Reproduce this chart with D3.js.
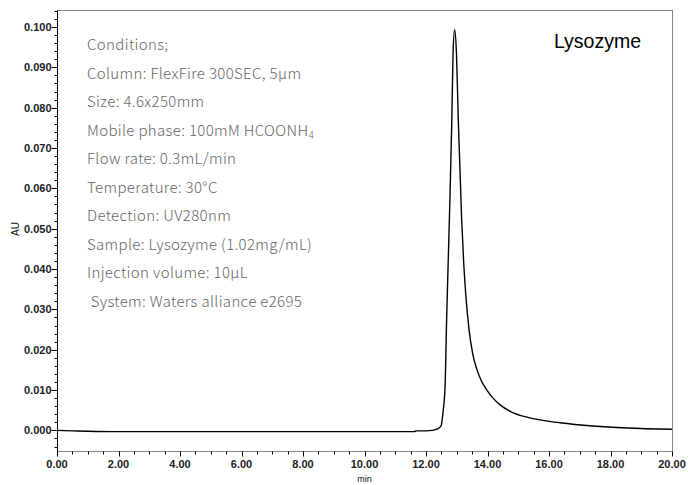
<!DOCTYPE html>
<html><head><meta charset="utf-8">
<script src="https://cdn.jsdelivr.net/npm/d3@7"></script>
<style>body{margin:0;background:#fff}svg{display:block}</style>
</head><body><svg id="c" width="688" height="485"></svg>
<script>
const timeMin = [0,0.5,1,2,3,5,7,9,11,11.6,11.7,12.0,12.2,12.35,12.49,12.55,12.62,12.67,12.76,12.84,12.88,12.93,12.99,13.05,13.16,13.23,13.30,13.40,13.52,13.66,13.80,13.98,14.18,14.40,14.80,15.28,15.80,16.36,17.43,18.54,20.0];
const absAU   = [0.0000,-0.0001,-0.0002,-0.0003,-0.0003,-0.0003,-0.0003,-0.0003,-0.0003,-0.0003,-0.0001,-0.0001,0.0000,0.0003,0.0011,0.0043,0.0109,0.0274,0.0522,0.0770,0.0936,0.0993,0.0936,0.0770,0.0522,0.0410,0.0330,0.0250,0.0190,0.0150,0.0123,0.0100,0.0080,0.0064,0.0045,0.0033,0.0025,0.0019,0.0011,0.0006,0.0003];
const xTickValues = [0,2,4,6,8,10,12,14,16,18,20];
const yTickValues = [0,0.01,0.02,0.03,0.04,0.05,0.06,0.07,0.08,0.09,0.10];
const conditions = ["Conditions;","Column: FlexFire 300SEC, 5µm","Size: 4.6x250mm","Mobile phase: 100mM HCOONH\u2084","Flow rate: 0.3mL/min","Temperature: 30°C","Detection: UV280nm","Sample: Lysozyme (1.02mg/mL)","Injection volume: 10µL"," System: Waters alliance e2695"];
const sampleName = "Lysozyme";
const xTitle = "min", yTitle = "AU";

const svg = d3.select("#c");
const L=57,R=672,T=10,B=451;
const x = d3.scaleLinear().domain([0,20]).range([L,R]);
const y = d3.scaleLinear().domain([-0.0051,0.1042]).range([B,T]);

// frame
svg.append("line").attr("x1",L).attr("x2",R).attr("y1",T+0.5).attr("y2",T+0.5).attr("stroke","#888");
svg.append("line").attr("x1",R+0.5).attr("x2",R+0.5).attr("y1",T).attr("y2",B).attr("stroke","#888");

const fnt = "'Liberation Sans', Arial, sans-serif";
// x axis
const xMinor = d3.range(0,20.01,0.5);
const gx = svg.append("g").attr("transform",`translate(0,${B+0.5})`);
gx.append("line").attr("x1",L).attr("x2",R).attr("stroke","#888");
gx.selectAll(".mn").data(xMinor).join("line").attr("x1",d=>Math.round(x(d))+0.5).attr("x2",d=>Math.round(x(d))+0.5).attr("y1",0).attr("y2",3).attr("stroke","#000");
gx.selectAll(".mj").data(xTickValues).join("line").attr("x1",d=>Math.round(x(d))+0.5).attr("x2",d=>Math.round(x(d))+0.5).attr("y1",0).attr("y2",5).attr("stroke","#000");
gx.selectAll("text").data(xTickValues).join("text").attr("x",d=>x(d)).attr("y",16).attr("text-anchor","middle")
  .attr("font-family",fnt).attr("font-size",11).attr("font-weight","bold").attr("fill","#222").text(d=>d.toFixed(2));
svg.append("text").attr("x",(L+R)/2).attr("y",482).attr("text-anchor","middle").attr("font-family",fnt).attr("font-size",9).attr("fill","#111").text(xTitle);

// y axis
const yMinor = d3.range(-0.004,0.1041,0.002);
const gy = svg.append("g").attr("transform",`translate(${L+0.5},0)`);
gy.append("line").attr("y1",T).attr("y2",B).attr("stroke","#000");
gy.selectAll(".mn").data(yMinor).join("line").attr("y1",d=>Math.round(y(d))+0.5).attr("y2",d=>Math.round(y(d))+0.5).attr("x1",0).attr("x2",-3).attr("stroke","#000");
gy.selectAll(".mj").data(yTickValues).join("line").attr("y1",d=>Math.round(y(d))+0.5).attr("y2",d=>Math.round(y(d))+0.5).attr("x1",0).attr("x2",-6).attr("stroke","#000");
gy.selectAll("text").data(yTickValues).join("text").attr("x",-6).attr("y",d=>y(d)+4).attr("text-anchor","end")
  .attr("font-family",fnt).attr("font-size",11).attr("font-weight","bold").attr("fill","#222").text(d=>d.toFixed(3));
svg.append("text").attr("transform","translate(19,229) rotate(-90)").attr("text-anchor","middle").attr("font-family",fnt).attr("font-size",10).attr("fill","#111").text(yTitle);

// trace
const line = d3.line().x((d,i)=>x(timeMin[i])).y(d=>y(d)).curve(d3.curveMonotoneX);
svg.append("path").attr("d",line(absAU)).attr("fill","none").attr("stroke","#000").attr("stroke-width",1.4);

// conditions
const ct = svg.append("g");
conditions.forEach((s,i)=>{
  const t = ct.append("text").attr("x",87).attr("y",50+i*28.5).attr("font-family","'Noto Sans CJK JP','Noto Sans',sans-serif").attr("font-weight",300).attr("font-size",15).attr("letter-spacing",0.35).attr("fill","#666").attr("xml:space","preserve");
  if(s.includes("\u2084")){
    t.text(s.replace("\u2084",""));
    t.append("tspan").attr("font-size",10).attr("dy",3).text("4");
  } else t.text(s);
});
svg.append("text").attr("x",554).attr("y",48).attr("font-family",fnt).attr("font-size",19.5).attr("fill","#000").text(sampleName);
</script></body></html>
